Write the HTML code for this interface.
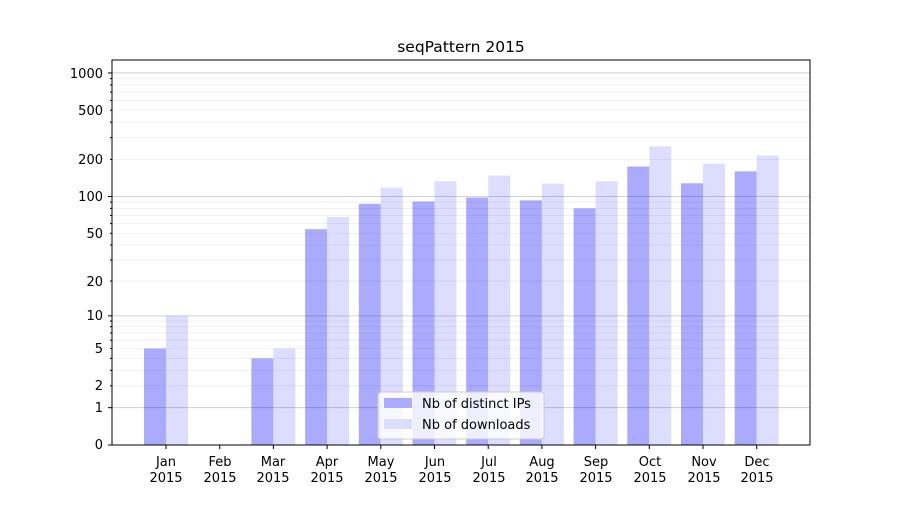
<!DOCTYPE html>
<html><head><meta charset="utf-8"><style>
body{margin:0;background:#fff}
svg text{font-family:"DejaVu Sans","Liberation Sans",sans-serif;font-size:13px;fill:#000}
</style></head><body>
<svg id="s" width="900" height="500" viewBox="0 0 900 500">
<rect width="900" height="500" fill="#fff"/>
<g id="bars"></g>
<g id="grid"></g>
<rect x="112" y="60" width="698" height="385" fill="none" stroke="#000" stroke-width="1"/>
<text x="461" y="52" text-anchor="middle" style="font-size:15.5px">seqPattern 2015</text>
<g text-anchor="end">
<text x="103" y="449">0</text>
<text x="103" y="412">1</text>
<text x="103" y="390">2</text>
<text x="103" y="353">5</text>
<text x="103" y="320">10</text>
<text x="103" y="286">20</text>
<text x="103" y="238">50</text>
<text x="103" y="201">100</text>
<text x="103" y="164">200</text>
<text x="103" y="115">500</text>
<text x="103" y="78">1000</text>
</g>
<g id="xl" text-anchor="middle">
<text x="166" y="466">Jan</text><text x="166" y="482">2015</text>
<text x="220" y="466">Feb</text><text x="220" y="482">2015</text>
<text x="273" y="466">Mar</text><text x="273" y="482">2015</text>
<text x="327" y="466">Apr</text><text x="327" y="482">2015</text>
<text x="381" y="466">May</text><text x="381" y="482">2015</text>
<text x="435" y="466">Jun</text><text x="435" y="482">2015</text>
<text x="489" y="466">Jul</text><text x="489" y="482">2015</text>
<text x="542" y="466">Aug</text><text x="542" y="482">2015</text>
<text x="596" y="466">Sep</text><text x="596" y="482">2015</text>
<text x="650" y="466">Oct</text><text x="650" y="482">2015</text>
<text x="704" y="466">Nov</text><text x="704" y="482">2015</text>
<text x="757" y="466">Dec</text><text x="757" y="482">2015</text>
</g>
<g>
<rect x="378" y="392" width="166" height="47" rx="3" fill="#fff" fill-opacity="0.8" stroke="#ccc"/>
<rect x="384" y="398" width="28" height="10" fill="#aaaaff"/>
<text x="422" y="408">Nb of distinct IPs</text>
<rect x="384" y="419" width="28" height="10" fill="#ddddff"/>
<text x="422" y="429">Nb of downloads</text>
</g>
</svg>
<script>
var ns="http://www.w3.org/2000/svg";
function Y(v){return 445-124*Math.log10(v+1);}
var g=document.getElementById('grid');
function line(y,c,o,tick){var l=document.createElementNS(ns,'line');l.setAttribute('x1',112);l.setAttribute('x2',810);l.setAttribute('y1',y);l.setAttribute('y2',y);l.setAttribute('stroke',c);l.setAttribute('stroke-opacity',o);l.setAttribute('stroke-width',0.8);g.appendChild(l);
var t=document.createElementNS(ns,'line');t.setAttribute('x1',tick);t.setAttribute('x2',112);t.setAttribute('y1',y);t.setAttribute('y2',y);t.setAttribute('stroke','#000');g.appendChild(t);}
[1,10,100,1000].forEach(function(d){for(var k=2;k<10;k++){if(d*k<=1100)line(Y(d*k),'#000',0.07,110);}});
[0,1,10,100,1000].forEach(function(v){line(Y(v),'#000',0.22,108);});
var ip=[5,0,4,54,87,91,98,93,80,175,128,160],dl=[10,0,5,68,118,133,148,127,133,255,185,215];
var b=document.getElementById('bars');
for(var i=0;i<12;i++){var cx=166+i*53.7;
[[ip[i],cx-22,'#aaaaff'],[dl[i],cx,'#ddddff']].forEach(function(a){if(a[0]<=0)return;var r=document.createElementNS(ns,'rect');var y=Y(a[0]);r.setAttribute('x',a[1]);r.setAttribute('y',y);r.setAttribute('width',22);r.setAttribute('height',445-y);r.setAttribute('fill',a[2]);b.appendChild(r);});
var t=document.createElementNS(ns,'line');t.setAttribute('x1',cx);t.setAttribute('x2',cx);t.setAttribute('y1',445);t.setAttribute('y2',449);t.setAttribute('stroke','#000');g.appendChild(t);}
</script>
</body></html>
